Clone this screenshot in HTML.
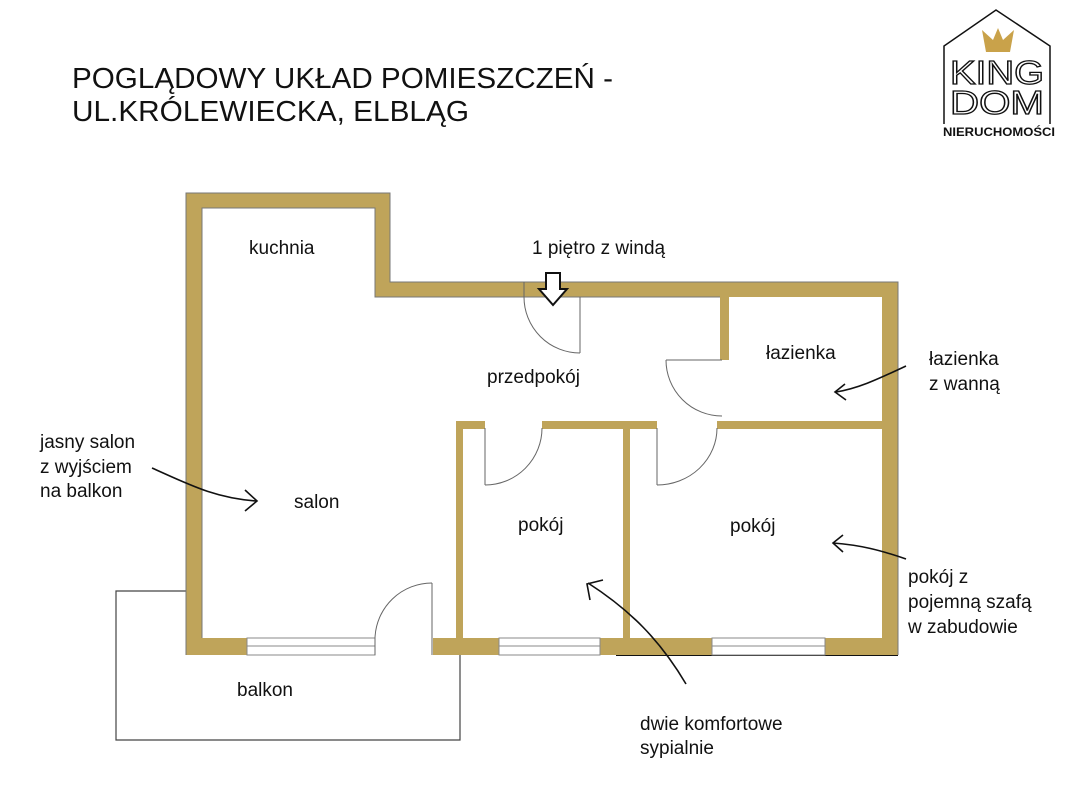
<!DOCTYPE html>
<html><head><meta charset="utf-8"><style>
html,body{margin:0;padding:0;background:#fff;width:1065px;height:800px;overflow:hidden}
svg{display:block}
text{font-family:"Liberation Sans",sans-serif;fill:#111}
</style></head><body>
<svg width="1065" height="800" viewBox="0 0 1065 800" xmlns="http://www.w3.org/2000/svg">
<text x="72" y="88" font-size="29" textLength="541" lengthAdjust="spacingAndGlyphs">POGLĄDOWY UKŁAD POMIESZCZEŃ -</text>
<text x="72" y="121" font-size="29" textLength="397" lengthAdjust="spacingAndGlyphs">UL.KRÓLEWIECKA, ELBLĄG</text>

<!-- logo -->
<polyline points="944,124 944,46 996,10 1050,46 1050,124" fill="none" stroke="#111" stroke-width="1.5"/>
<polygon points="982,30 993,40 998,28 1003,40 1014,30 1010,52 986,52" fill="#c9a24a"/>
<text x="997" y="84" font-size="33" text-anchor="middle" textLength="94" lengthAdjust="spacingAndGlyphs" fill="none" stroke="#111" stroke-width="1.3" style="fill:none">KING</text>
<text x="997" y="114" font-size="33" text-anchor="middle" textLength="94" lengthAdjust="spacingAndGlyphs" stroke="#111" stroke-width="1.3" style="fill:none">DOM</text>
<text x="999" y="136" font-size="11.5" font-weight="bold" text-anchor="middle" textLength="112" lengthAdjust="spacingAndGlyphs">NIERUCHOMOŚCI</text>

<!-- balcony -->
<polyline points="186,591 116,591 116,740 460,740 460,655" fill="none" stroke="#444" stroke-width="1.2"/>
<line x1="616" y1="655" x2="898" y2="655" stroke="#111" stroke-width="2"/>

<g fill="#bfa45a">
<rect x="186" y="193" width="16" height="462"/>
<rect x="186" y="193" width="204" height="15"/>
<rect x="375" y="193" width="15" height="104"/>
<rect x="375" y="282" width="523" height="15"/>
<rect x="882" y="282" width="16" height="373"/>
<rect x="720" y="297" width="9" height="63"/>
<rect x="720" y="421" width="162" height="8"/>
<rect x="456" y="421" width="29" height="8"/>
<rect x="542" y="421" width="115" height="8"/>
<rect x="717" y="421" width="165" height="8"/>
<rect x="456" y="421" width="7" height="234"/>
<rect x="623" y="421" width="7" height="234"/>
<rect x="186" y="638" width="61" height="17"/>
<rect x="433" y="638" width="66" height="17"/>
<rect x="600" y="638" width="112" height="17"/>
<rect x="825" y="638" width="73" height="17"/>
</g>
<g fill="none" stroke="#777" stroke-width="1">
<polyline points="186,655 186,193 390,193 390,282 898,282 898,655"/>
<polyline points="202,638 202,208 375,208 375,297 720,297"/>
</g>
<g fill="#fff" stroke="#888" stroke-width="1">
<rect x="247" y="638" width="128" height="17"/>
<line x1="247" y1="646" x2="375" y2="646"/>
<rect x="499" y="638" width="101" height="17"/>
<line x1="499" y1="646" x2="600" y2="646"/>
<rect x="712" y="638" width="113" height="17"/>
<line x1="712" y1="646" x2="825" y2="646"/>
</g>
<g fill="none" stroke="#666" stroke-width="1">
<line x1="432" y1="583" x2="432" y2="655"/><path d="M432,583 A57,57 0 0 0 375,638 L375,655"/>
<line x1="580" y1="297" x2="580" y2="353"/><path d="M580,353 A56,56 0 0 1 524,297 L524,282"/>
<line x1="666" y1="360" x2="722" y2="360"/><path d="M666,360 A56,56 0 0 0 722,416"/>
<line x1="485" y1="428" x2="485" y2="485"/><path d="M542,428 A57,57 0 0 1 485,485"/>
<line x1="657" y1="428" x2="657" y2="485"/><path d="M717,428 A60,57 0 0 1 657,485"/>
</g>
<polygon points="546,273 560,273 560,289 567,289 553,305 539,289 546,289" fill="#fff" stroke="#111" stroke-width="2"/>

<g font-size="19">
<text x="249" y="254">kuchnia</text>
<text x="532" y="254">1 piętro z windą</text>
<text x="487" y="383">przedpokój</text>
<text x="766" y="359">łazienka</text>
<text x="294" y="508">salon</text>
<text x="518" y="531">pokój</text>
<text x="730" y="532">pokój</text>
<text x="237" y="696">balkon</text>
<text x="40" y="448">jasny salon</text>
<text x="40" y="473">z wyjściem</text>
<text x="40" y="497">na balkon</text>
<text x="929" y="365">łazienka</text>
<text x="929" y="390">z wanną</text>
<text x="908" y="583">pokój z</text>
<text x="908" y="608">pojemną szafą</text>
<text x="908" y="633">w zabudowie</text>
<text x="640" y="730">dwie komfortowe</text>
<text x="640" y="754">sypialnie</text>
</g>
<g fill="none" stroke="#111" stroke-width="1.6">
<path d="M152,468 C190,485 215,498 256,501"/><path d="M245,490 L257,501 L245,511"/>
<path d="M906,366 C880,378 860,388 836,392"/><path d="M845,384 L835,392 L846,400"/>
<path d="M906,559 C880,550 860,545 833,543"/><path d="M843,535 L833,543 L843,552"/>
<path d="M686,684 C660,640 630,610 588,583"/><path d="M590,600 L587,584 L603,580"/>
</g>
</svg>
</body></html>
